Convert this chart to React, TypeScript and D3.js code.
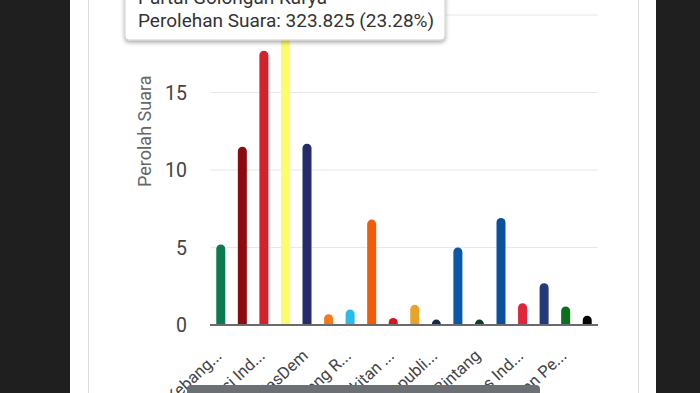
import * as d3 from "d3";

const parties = [
  "Partai Kebangkitan Bangsa",
  "Partai Gerakan Indonesia Raya",
  "Partai Demokrasi Indonesia Perjuangan",
  "Partai Golongan Karya",
  "Partai NasDem",
  "Partai Buruh",
  "Partai Gelombang Rakyat Indonesia",
  "Partai Keadilan Sejahtera",
  "Partai Kebangkitan Nusantara",
  "Partai Hati Nurani Rakyat",
  "Partai Garda Republik Indonesia",
  "Partai Amanat Nasional",
  "Partai Bulan Bintang",
  "Partai Demokrat",
  "Partai Solidaritas Indonesia",
  "Partai Perindo",
  "Partai Persatuan Pembangunan",
  "Partai Ummat",
];
// tick labels as drawn (every other category, truncated)
const tickLabels = [
  "Partai Kebang...", "",
  "Partai Demokrasi Ind...", "",
  "Partai NasDem", "",
  "Partai Gelombang R...", "",
  "Partai Kebangkitan ...", "",
  "Partai Garda Republi...", "",
  "Partai Bulan Bintang", "",
  "Partai Solidaritas Ind...", "",
  "Partai Persatuan Pe...", "",
];
const suara = [5.2, 11.5, 17.7, 23.28, 11.7, 0.7, 1.0, 6.8, 0.45, 1.3, 0.35, 5.0, 0.35, 6.9, 1.4, 2.7, 1.2, 0.6];
const colors = [
  "#0c7a4e", "#8c0b0e", "#d2232a", "#fdfd6b", "#262b6b", "#f47a20",
  "#29bce9", "#f45b06", "#d8141d", "#e8a428", "#0f2b46", "#0b58a8",
  "#0d3e27", "#0b509f", "#e0263b", "#24397a", "#0b701d", "#050505",
];
const yTicks = [0, 5, 10, 15, 20];

const W = 700;
const H = 393;

const App = () => {
  const x = d3.scaleBand<number>().domain(d3.range(parties.length)).range([210, 598]);
  const y = d3.scaleLinear([0, 20], [325, 15]);
  const bw = 9;
  const r = bw / 2;

  const barPath = (i: number) => {
    const cx = x(i)! + x.bandwidth() / 2;
    const x0 = cx - r;
    const x1 = cx + r;
    const top = y(suara[i]);
    const base = y(0);
    return `M${x0},${base}V${top + r}A${r},${r} 0 0 1 ${x1},${top + r}V${base}Z`;
  };

  return (
    <svg
      width={W}
      height={H}
      style={{ position: "fixed", left: 0, top: 0, fontFamily: "Roboto" }}
    >
      <defs>
        <filter id="sh" x="-10%" y="-20%" width="120%" height="160%">
          <feDropShadow dx="0" dy="2" stdDeviation="2" floodColor="#000" floodOpacity="0.35" />
        </filter>
      </defs>
      <rect width={W} height={H} fill="#1f1f1f" />
      <rect x={70} width={586} height={H} fill="#fff" />
      <line x1={88.5} x2={88.5} y1={0} y2={H} stroke="#dcdcdc" />
      <line x1={638.5} x2={638.5} y1={0} y2={H} stroke="#dcdcdc" />

      <g>
        {yTicks.map((t) => (
          <g key={t}>
            {t > 0 && (
              <line x1={210} x2={598} y1={y(t)} y2={y(t)} stroke="#e8e8e8" strokeWidth={1.2} />
            )}
            <text x={187} y={y(t)} dy="0.36em" textAnchor="end" fontSize={19.5} fill="#444">
              {t}
            </text>
          </g>
        ))}
      </g>

      <text
        transform={`translate(151,${y(12.5)}) rotate(-90)`}
        textAnchor="middle"
        fontSize={18}
        fill="#666"
      >
        Perolah Suara
      </text>

      <g>
        {suara.map((_, i) => (
          <path key={i} d={barPath(i)} fill={colors[i]} />
        ))}
      </g>
      <line x1={210} x2={598} y1={325} y2={325} stroke="#6b6b6b" strokeWidth={2} />

      <g>
        {tickLabels.map((l, i) =>
          l ? (
            <text
              key={i}
              transform={`translate(${x(i)! + x.bandwidth() / 2 + 2},357) rotate(-43)`}
              textAnchor="end"
              fontSize={16.5}
              fill="#444"
            >
              {l}
            </text>
          ) : null
        )}
      </g>

      <path d="M187,393V389a4,4 0 0 1 4,-4H536a4,4 0 0 1 4,4V393Z" fill="#6c6f73" />

      <g>
        <rect x={125} y={-20} width={320} height={60} rx={4} fill="#fff" stroke="#cfcfcf" filter="url(#sh)" />
        <text x={138} y={4} fontSize={19} fill="#333">
          Partai Golongan Karya
        </text>
        <text x={138} y={27} fontSize={19} fill="#333">
          Perolehan Suara: 323.825 (23.28%)
        </text>
      </g>
    </svg>
  );
};

export default App;
